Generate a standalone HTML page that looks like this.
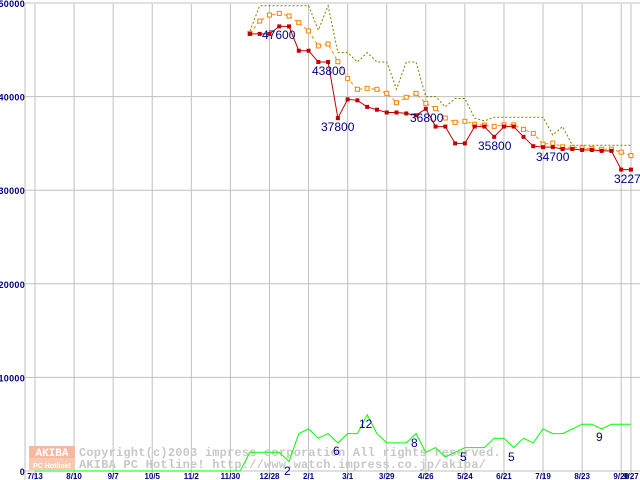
<!DOCTYPE html>
<html><head><meta charset="utf-8"><style>
body{margin:0;background:#fff;}
svg{display:block;}
</style></head><body>
<svg id="chart" width="640" height="480" viewBox="0 0 640 480" xmlns="http://www.w3.org/2000/svg"></svg>
<script>
const xTickLabels=["7/13","8/10","9/7","10/5","11/2","11/30","12/28","2/1","3/1","3/29","4/26","5/24","6/21","7/19","8/23","9/20","9/27"];
const xTickWeeks=[0,4,8,12,16,20,24,28,32,36,40,44,48,52,56,60,61];
const yTicks=[0,10000,20000,30000,40000,50000];
const priceStart=22;
const minPrice=[46700,46700,46700,47500,47500,44900,44900,43700,43700,37700,39700,39600,38900,38600,38300,38300,38200,38000,38700,36800,36800,35000,35000,36800,36800,35700,36800,36800,35700,34700,34600,34600,34400,34400,34300,34300,34200,34200,32200,32200];
const avgPrice=[46760,48070,48710,48890,48610,47900,47010,45410,45620,43730,41950,40780,40880,40780,40350,39350,39930,40350,39280,38740,37710,37250,37360,37040,36960,36820,36990,36990,36500,36070,34920,35030,34630,34570,34520,34460,34380,34380,34060,33700];
const maxPrice=[47000,49700,49700,49700,49700,49700,49700,47100,49700,44700,44700,43700,44700,43700,43700,40800,43700,43700,40000,40000,38900,39800,39800,37700,37400,37800,37800,37800,37800,37800,37800,35900,36800,34800,34800,34800,34800,34800,34800,34800];
const shopCount=[0,0,0,0,0,0,0,0,0,0,0,0,0,0,0,0,0,0,0,0,0,0,4,4,4,4,2,8,9,7,8,6,8,8,12,8,6,6,6,8,4,5,3,4,5,5,5,7,7,5,7,6,9,8,8,9,10,10,9,10,10,10];
const priceLabels=[{t:"47600",x:262,y:39},{t:"43800",x:312,y:75},{t:"37800",x:321,y:131},{t:"36800",x:410,y:122},{t:"35800",x:478,y:150},{t:"34700",x:536,y:161},{t:"32270",x:614,y:183}];
const countLabels=[{t:"2",x:284,y:475},{t:"6",x:333,y:455},{t:"12",x:359,y:428},{t:"8",x:411,y:447},{t:"5",x:460,y:461},{t:"5",x:508,y:461},{t:"9",x:596,y:441}];

const NS="http://www.w3.org/2000/svg";
const svg=document.getElementById('chart');
const X=i=>35+i*9.77;
const Y=v=>471-v*468/50000;
const YC=c=>471-c*4.68;
function mk(tag,attrs,parent){const e=document.createElementNS(NS,tag);for(const k in attrs)e.setAttribute(k,attrs[k]);(parent||svg).appendChild(e);return e;}

const grid=mk('g',{});


yTicks.forEach(v=>{
  const l=mk('line',{x1:25,x2:640,y1:Y(v),y2:Y(v),stroke:'#c0c0c0','stroke-width':1},grid);
  
  
  const t=mk('text',{x:25,y:Y(v)+4,'text-anchor':'end','font-family':'Liberation Sans, sans-serif','font-size':9,'font-weight':'bold',fill:'#000080','letter-spacing':'0.3'});
  t.textContent=v;
  
  
});
mk('line',{x1:25,x2:25,y1:4,y2:480,stroke:'#c0c0c0'},grid);
xTickWeeks.forEach((w,k)=>{
  const l=mk('line',{x1:X(w),x2:X(w),y1:4,y2:480,stroke:'#c0c0c0'},grid);
  
  
  const t=mk('text',{x:X(w),y:479,'text-anchor':'middle','font-family':'Liberation Sans, sans-serif','font-size':8,'font-weight':'bold',fill:'#000080'});
  t.textContent=xTickLabels[k];
  
  
});

const wm=mk('g',{});


mk('rect',{x:29,y:446,width:46,height:12,fill:'#f6b8a0'},wm);
mk('rect',{x:29,y:458,width:46,height:12,fill:'#f9c8b0'},wm);
const a1=mk('text',{x:52,y:456,'text-anchor':'middle','font-family':'Liberation Mono, monospace','font-size':11,'font-weight':'bold',fill:'#fff'},wm);a1.textContent='AKIBA';
const a2=mk('text',{x:52,y:468,'text-anchor':'middle','font-family':'Liberation Sans, sans-serif','font-size':7,'font-weight':'bold',fill:'#fff'},wm);a2.textContent='PC Hotline!';
const c1=mk('text',{x:79,y:456,'font-family':'Liberation Mono, monospace','font-size':12,'font-weight':'bold',fill:'#c8c8c8','letter-spacing':'0.2'},wm);c1.textContent='Copyright(c)2003 impress corporation All rights reserved.';
const c2=mk('text',{x:79,y:468,'font-family':'Liberation Mono, monospace','font-size':12,'font-weight':'bold',fill:'#c8c8c8','letter-spacing':'0.2'},wm);c2.textContent='AKIBA PC Hotline!  http://www.watch.impress.co.jp/akiba/';

function pts(arr,start,fy){return arr.map((v,i)=>X(start+i).toFixed(1)+','+fy(v).toFixed(1)).join(' ');}

const g1=mk('polyline',{points:pts(shopCount,0,YC),fill:'none',stroke:'#00ff00','stroke-width':1});



const mx=mk('polyline',{points:pts(maxPrice,priceStart,Y),fill:'none',stroke:'#808000','stroke-width':1,'stroke-dasharray':'2,2'});



const av=mk('polyline',{points:pts(avgPrice,priceStart,Y),fill:'none',stroke:'#ff8000','stroke-width':1,'stroke-dasharray':'3,3'});


avgPrice.forEach((v,i)=>{
  const r=mk('rect',{x:X(priceStart+i)-2,y:Y(v)-2,width:4,height:4,fill:'#fff',stroke:'#ff8000','stroke-width':1});
  
  
});

const mn=mk('polyline',{points:pts(minPrice,priceStart,Y),fill:'none',stroke:'#c00000','stroke-width':1});


minPrice.forEach((v,i)=>{
  const r=mk('rect',{x:X(priceStart+i)-2,y:Y(v)-2,width:4,height:4,fill:'#c00000'});
  
  
});

priceLabels.forEach(p=>{
  const t=mk('text',{x:p.x,y:p.y,'font-family':'Liberation Sans, sans-serif','font-size':12,fill:'#000080'});
  t.textContent=p.t;
  
  
});
countLabels.forEach(p=>{
  const t=mk('text',{x:p.x,y:p.y,'font-family':'Liberation Sans, sans-serif','font-size':12,fill:'#000080'});
  t.textContent=p.t;
  
  
});
</script>
</body></html>
